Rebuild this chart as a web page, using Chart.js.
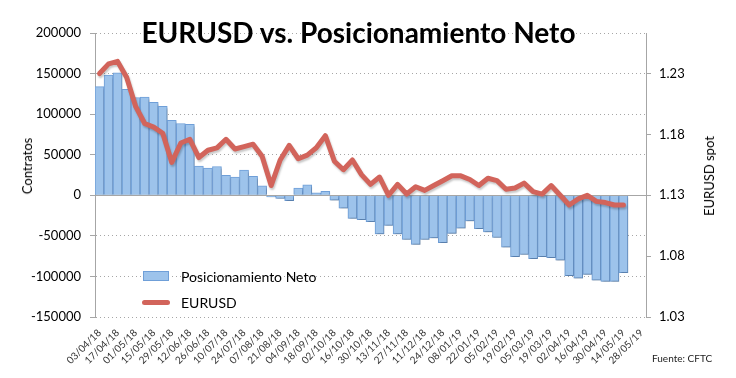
<!DOCTYPE html>
<html><head><meta charset="utf-8">
<script src="https://cdn.jsdelivr.net/npm/chart.js@4/dist/chart.umd.min.js"></script>
<style>
html,body{margin:0;padding:0;background:#fff;}
#wrap{position:relative;width:736px;height:378px;overflow:hidden;font-family:Lato,'Open Sans',sans-serif;color:#000;}
#c{position:absolute;left:0;top:0;}
.title{position:absolute;left:2px;width:713px;top:15px;text-align:center;font-weight:bold;font-size:28px;line-height:34px;white-space:nowrap;}
.vt{position:absolute;transform:translate(-50%,-50%) rotate(-90deg);white-space:nowrap;font-size:13px;line-height:16px;}
.lg{position:absolute;font-size:14px;line-height:16px;white-space:nowrap;transform:translateY(-50%);}
.src{position:absolute;left:652px;top:352px;font-size:10px;line-height:12px;color:#222;white-space:nowrap;}
</style></head>
<body>
<div id="wrap">
<canvas id="c" width="736" height="378"></canvas>
<div class="title">EURUSD vs. Posicionamiento Neto</div>
<div class="vt" style="left:27px;top:166px;">Contratos</div>
<div class="vt" style="left:709px;top:176px;">EURUSD spot</div>
<div style="position:absolute;left:143px;top:271px;width:24px;height:8px;background:#9DC3EB;border:1px solid #6F9FD8;"></div>
<div class="lg" style="left:181px;top:277px;">Posicionamiento Neto</div>
<div style="position:absolute;left:142px;top:300px;width:28px;height:5px;border-radius:3px;background:#D2645B;"></div>
<div class="lg" style="left:181px;top:303px;">EURUSD</div>
<div class="src">Fuente: CFTC</div>
</div>
<script>
const categories = ["03/04/18","10/04/18","17/04/18","24/04/18","01/05/18","08/05/18","15/05/18","22/05/18","29/05/18","05/06/18",
"12/06/18","19/06/18","26/06/18","03/07/18","10/07/18","17/07/18","24/07/18","31/07/18","07/08/18","14/08/18",
"21/08/18","28/08/18","04/09/18","11/09/18","18/09/18","25/09/18","02/10/18","09/10/18","16/10/18","23/10/18",
"30/10/18","06/11/18","13/11/18","20/11/18","27/11/18","04/12/18","11/12/18","18/12/18","24/12/18","31/12/18",
"08/01/19","15/01/19","22/01/19","29/01/19","05/02/19","12/02/19","19/02/19","26/02/19","05/03/19","12/03/19",
"19/03/19","26/03/19","02/04/19","09/04/19","16/04/19","23/04/19","30/04/19","07/05/19","14/05/19","21/05/19","28/05/19"];

const netPositions = [134000,148000,151000,130500,120500,121000,114500,109500,92500,88500,
87500,36000,33500,35500,24500,22500,31000,23500,11500,-2000,
-4000,-6500,9000,13000,3000,5000,-6000,-16000,-28500,-30000,
-32500,-47500,-37000,-47500,-54500,-60500,-54500,-52500,-58500,-47000,
-40500,-31500,-41000,-45000,-52000,-64000,-75500,-73000,-78000,-75500,
-77000,-80000,-99000,-102000,-97500,-104500,-106000,-106000,-95500];

const eurusdSpot = [1.230,1.238,1.240,1.227,1.203,1.189,1.186,1.181,1.157,1.173,
1.176,1.161,1.167,1.169,1.176,1.168,1.170,1.172,1.162,1.138,
1.159,1.171,1.160,1.163,1.169,1.179,1.158,1.151,1.159,1.147,
1.139,1.145,1.130,1.139,1.131,1.137,1.134,1.138,1.142,1.146,
1.146,1.143,1.138,1.144,1.142,1.135,1.136,1.140,1.133,1.131,
1.138,1.130,1.122,1.127,1.130,1.125,1.124,1.122,1.122];

const leftTicks = [-150000,-100000,-50000,0,50000,100000,150000,200000];
const rightTicks = [1.03,1.08,1.13,1.18,1.23];
const leftMin = -150000, leftMax = 200000;
const rightMin = 1.03, rightMax = 1.26333;

const shadowsAndZero = {
  id:'shadowsAndZero',
  beforeDatasetDraw(chart,args){
    const ctx = chart.ctx; ctx.save();
    ctx.shadowColor = 'rgba(0,0,0,0.22)';
    ctx.shadowBlur = 2; ctx.shadowOffsetX = 1; ctx.shadowOffsetY = 2;
  },
  afterDatasetDraw(chart,args){
    const ctx = chart.ctx; ctx.restore();
    if(args.meta.type!=='bar') return;
    const y = Math.round(chart.scales.y.getPixelForValue(0))+0.5;
    const a = chart.chartArea;
    ctx.save(); ctx.strokeStyle='#A6A6A6'; ctx.lineWidth=1;
    ctx.beginPath(); ctx.moveTo(a.left,y); ctx.lineTo(a.right,y); ctx.stroke(); ctx.restore();
  }
};

new Chart(document.getElementById('c'),{
  data:{
    labels:categories,
    datasets:[
      {type:'line',label:'EURUSD',data:eurusdSpot,yAxisID:'y1',borderColor:'#D2645B',borderWidth:5,
       pointRadius:0,tension:0,borderJoinStyle:'round',borderCapStyle:'round',fill:false,order:0},
      {type:'bar',label:'Posicionamiento Neto',data:netPositions,yAxisID:'y',backgroundColor:'#9DC3EB',
       borderColor:'#6F9FD8',borderWidth:1,barPercentage:1,categoryPercentage:1,order:1}
    ]
  },
  options:{
    responsive:false,animation:false,devicePixelRatio:1,
    layout:{padding:{top:33,left:0,right:0,bottom:0}},
    plugins:{legend:{display:false},tooltip:{enabled:false},title:{display:false}},
    scales:{
      x:{type:'category',offset:true,grid:{display:false},border:{display:false},
        ticks:{autoSkip:false,maxRotation:45,minRotation:45,padding:2,color:'#333',
          font:{family:'Lato',size:10},callback:(v,i)=> i%2===0 ? categories[i] : ''},
        afterFit(s){s.height=61;}},
      y:{position:'left',min:leftMin,max:leftMax,
        afterBuildTicks(s){s.ticks=leftTicks.map(v=>({value:v}));},
        grid:{color:'#A6A6A6',lineWidth:1,tickLength:5,tickColor:'#A6A6A6'},
        border:{display:true,color:'#A6A6A6',width:1,dash:[1,3]},
        ticks:{padding:9,color:'#000',font:{family:'Lato',size:13},callback:v=>String(v)},
        afterFit(s){s.width=95;}},
      y1:{position:'right',min:rightMin,max:rightMax,
        afterBuildTicks(s){s.ticks=rightTicks.map(v=>({value:v}));},
        grid:{drawOnChartArea:false,tickLength:5,tickColor:'#A6A6A6'},
        border:{display:true,color:'#A6A6A6',width:1},
        ticks:{padding:8,color:'#000',font:{family:'Lato',size:13},callback:v=>Number(v).toFixed(2)},
        afterFit(s){s.width=90;}}
    }
  },
  plugins:[shadowsAndZero]
});
</script>
</body></html>
